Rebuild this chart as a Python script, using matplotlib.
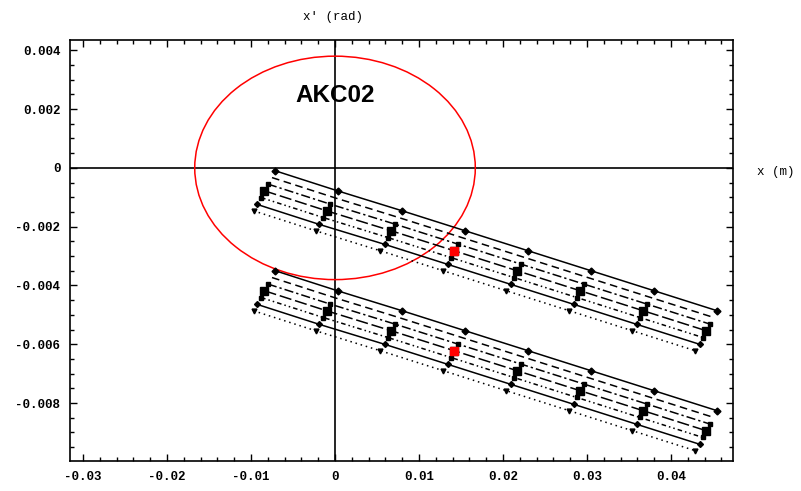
import matplotlib
matplotlib.use('Agg')
import matplotlib.pyplot as plt
from matplotlib.patches import Ellipse
from matplotlib.ticker import MultipleLocator

# x (m) of the 8 marker columns, one row per traced line (same for both groups)
beam_x = [
    [-0.0071, 0.0003, 0.0080, 0.0155, 0.0230, 0.0305, 0.0380, 0.0455],
    [-0.0075, -0.0001, 0.0076, 0.0151, 0.0226, 0.0301, 0.0376, 0.0451],
    [-0.0080, -0.0006, 0.0071, 0.0146, 0.0221, 0.0296, 0.0371, 0.0446],
    [-0.0084, -0.0010, 0.0067, 0.0142, 0.0217, 0.0292, 0.0367, 0.0442],
    [-0.0088, -0.0014, 0.0063, 0.0138, 0.0213, 0.0288, 0.0363, 0.0438],
    [-0.0093, -0.0019, 0.0059, 0.0134, 0.0209, 0.0284, 0.0359, 0.0434],
    [-0.0097, -0.0023, 0.0054, 0.0129, 0.0204, 0.0279, 0.0354, 0.0429],
]

# x' (rad), upper group
upper_y = [
    [-0.00010, -0.00078, -0.00146, -0.00214, -0.00282, -0.00350, -0.00418, -0.00486],
    [-0.00033, -0.00101, -0.00169, -0.00237, -0.00305, -0.00373, -0.00441, -0.00509],
    [-0.00055, -0.00123, -0.00191, -0.00259, -0.00327, -0.00395, -0.00463, -0.00531],
    [-0.00078, -0.00146, -0.00214, -0.00282, -0.00350, -0.00418, -0.00486, -0.00554],
    [-0.00101, -0.00169, -0.00237, -0.00305, -0.00373, -0.00441, -0.00509, -0.00577],
    [-0.00124, -0.00192, -0.00260, -0.00328, -0.00396, -0.00464, -0.00532, -0.00600],
    [-0.00146, -0.00214, -0.00282, -0.00350, -0.00418, -0.00486, -0.00554, -0.00622],
]

# x' (rad), lower group
lower_y = [
    [-0.00350, -0.00418, -0.00486, -0.00554, -0.00622, -0.00690, -0.00758, -0.00826],
    [-0.00373, -0.00441, -0.00509, -0.00577, -0.00645, -0.00713, -0.00781, -0.00849],
    [-0.00395, -0.00463, -0.00531, -0.00599, -0.00667, -0.00735, -0.00803, -0.00871],
    [-0.00418, -0.00486, -0.00554, -0.00622, -0.00690, -0.00758, -0.00826, -0.00894],
    [-0.00441, -0.00509, -0.00577, -0.00645, -0.00713, -0.00781, -0.00849, -0.00917],
    [-0.00464, -0.00532, -0.00600, -0.00668, -0.00736, -0.00804, -0.00872, -0.00940],
    [-0.00486, -0.00554, -0.00622, -0.00690, -0.00758, -0.00826, -0.00894, -0.00962],
]

# the middle line carries the square markers, one column of it is red
square_line = 3
red_column = 3

# acceptance ellipse
ellipse_center = (0.0, 0.0)
ellipse_half_x = 0.0167
ellipse_half_y = 0.0038
ellipse_name = 'AKC02'

x_ticks = [-0.03, -0.02, -0.01, 0, 0.01, 0.02, 0.03, 0.04]
x_tick_labels = ['-0.03', '-0.02', '-0.01', '0', '0.01', '0.02', '0.03', '0.04']
y_ticks = [0.004, 0.002, 0, -0.002, -0.004, -0.006, -0.008]
y_tick_labels = ['0.004', '0.002', '0', '-0.002', '-0.004', '-0.006', '-0.008']

line_styles = ['-', (0, (5, 3)), (0, (6, 2, 1.5, 2)), (0, (8, 2.5)),
               (0, (3, 2, 1, 2, 1, 2)), '-', (0, (1, 2.5))]
line_markers = ['D', None, 's', 's', 's', 'D', 'v']
marker_sizes = [3.5, 0, 3, 6, 3, 3, 3.5]

fig = plt.figure(figsize=(8.01, 4.91), dpi=100)
ax = fig.add_axes([70 / 801, 30 / 491, 663 / 801, 421 / 491])

ax.axhline(0, color='black', lw=1.2, zorder=1)
ax.axvline(0, color='black', lw=1.2, zorder=1)

for ys in [upper_y, lower_y]:
    for i in range(len(beam_x)):
        ax.plot(beam_x[i], ys[i], color='black', lw=1.1, ls=line_styles[i],
                marker=line_markers[i], ms=marker_sizes[i], mec='black', mfc='black', zorder=3)
    ax.plot(beam_x[square_line][red_column], ys[square_line][red_column], marker='s',
            ms=6, color='red', mec='red', ls='none', zorder=4)

ax.add_patch(Ellipse(ellipse_center, 2 * ellipse_half_x, 2 * ellipse_half_y,
                     fill=False, edgecolor='red', lw=1.1, zorder=2))
ax.text(ellipse_center[0], 0.00245, ellipse_name, ha='center', va='center',
        fontsize=17.5, fontweight='bold', family='Liberation Sans', zorder=5)

ax.set_xlim(-0.03155, 0.04738)
ax.set_ylim(-0.00997, 0.00435)

tick_font = dict(family='Liberation Mono', weight='bold', size=9)
ax.set_xticks(x_ticks)
ax.set_xticklabels(x_tick_labels, **tick_font)
ax.set_yticks(y_ticks)
ax.set_yticklabels(y_tick_labels, **tick_font)
ax.xaxis.set_minor_locator(MultipleLocator(0.002))
ax.yaxis.set_minor_locator(MultipleLocator(0.0005))
ax.tick_params(which='both', direction='in', top=True, right=True, width=1, color='black')
ax.tick_params(which='major', length=5, pad=7)
ax.tick_params(which='minor', length=3)
for s in ax.spines.values():
    s.set_linewidth(1.2)

fig.text(333 / 801, 1 - 17 / 491, "x' (rad)", ha='center', va='center',
         family='Liberation Mono', fontsize=9)
fig.text(776 / 801, 1 - 172 / 491, 'x (m)', ha='center', va='center',
         family='Liberation Mono', fontsize=9)

fig.savefig('out.png', dpi=100)
